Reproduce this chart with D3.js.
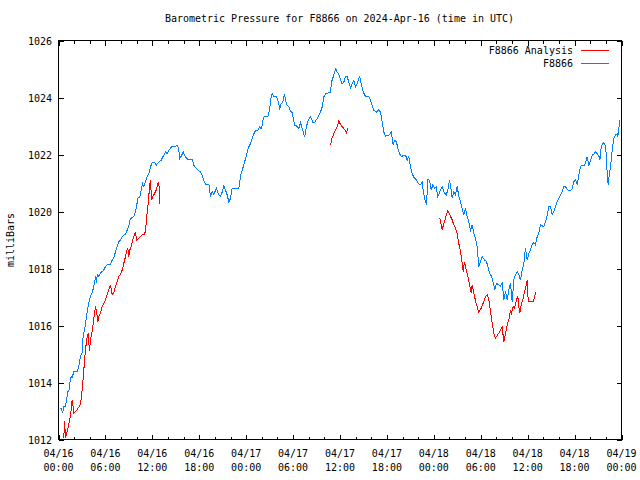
<!DOCTYPE html>
<html><head><meta charset="utf-8">
<script src="https://cdn.jsdelivr.net/npm/d3@7"></script>
<style>
body{margin:0;background:#fff}
text{font-family:"DejaVu Sans Mono","Liberation Mono",monospace;font-size:10px;fill:#000}
</style>
</head><body>
<svg id="chart" width="640" height="480"></svg>
<script>
const chartTitle = "Barometric Pressure for F8866 on 2024-Apr-16 (time in UTC)";
const yAxisLabel = "milliBars";
const seriesNames = ["F8866 Analysis", "F8866"];
const seriesColors = ["#ff0000", "#0080ff"];
const yTickValues = [1012, 1014, 1016, 1018, 1020, 1022, 1024, 1026];
const xTickHours = [0, 6, 12, 18, 24, 30, 36, 42, 48, 54, 60, 66, 72];
const xTickDays = ["04/16","04/16","04/16","04/16","04/17","04/17","04/17","04/17","04/18","04/18","04/18","04/18","04/19"];
const xTickTimes = ["00:00","06:00","12:00","18:00","00:00","06:00","12:00","18:00","00:00","06:00","12:00","18:00","00:00"];
const xMinorHours = d3.range(0, 73, 2).filter(h => h % 6 !== 0);

// [hours since 2024-04-16 00:00 UTC, pressure mbar]
const stationReadings = [
[0.26,1013.12],[0.55,1012.95],[0.68,1013.17],[0.90,1013.17],[1.02,1013.40],[1.21,1013.69],[1.32,1013.69],[1.45,1014.00],
[1.62,1014.22],[1.75,1014.17],[1.96,1014.39],[2.39,1014.39],[2.60,1014.57],[2.81,1014.92],[3.03,1015.05],[3.11,1015.50],
[3.24,1015.75],[3.45,1016.03],[3.58,1016.32],[3.75,1016.62],[3.96,1016.90],[4.09,1017.02],[4.31,1017.15],[4.51,1017.37],
[4.64,1017.54],[4.73,1017.72],[4.86,1017.50],[4.95,1017.78],[5.15,1017.72],[5.37,1017.85],[5.59,1017.89],[5.79,1017.95],
[6.01,1018.07],[6.27,1018.13],[6.65,1018.13],[6.87,1018.30],[7.07,1018.37],[7.29,1018.59],[7.51,1018.77],[7.71,1018.94],
[7.93,1019.00],[8.15,1019.12],[8.57,1019.21],[8.79,1019.35],[8.99,1019.47],[9.12,1019.70],[9.34,1019.77],[9.63,1019.82],
[9.85,1020.00],[9.98,1020.17],[10.14,1020.46],[10.40,1020.52],[10.58,1020.75],[10.74,1020.98],[10.91,1020.87],[11.13,1021.04],
[11.34,1021.22],[11.55,1021.33],[11.77,1021.57],[11.98,1021.71],[12.28,1021.71],[12.53,1021.63],[12.83,1021.74],[13.13,1021.80],
[13.47,1021.98],[13.68,1022.09],[13.90,1022.03],[14.11,1022.15],[14.54,1022.30],[14.84,1022.27],[15.18,1022.33],[15.35,1022.22],
[15.51,1021.86],[15.69,1021.94],[15.95,1022.09],[16.24,1021.92],[16.50,1021.84],[17.10,1021.84],[17.30,1021.63],[17.52,1021.55],
[17.94,1021.43],[18.16,1021.39],[18.38,1021.28],[18.58,1021.10],[18.80,1020.96],[19.06,1020.93],[19.25,1020.93],[19.44,1020.52],
[19.66,1020.69],[19.86,1020.61],[20.21,1020.81],[20.42,1020.63],[20.72,1020.52],[20.94,1020.69],[21.14,1020.90],[21.36,1020.75],
[21.57,1020.58],[21.78,1020.34],[22.00,1020.46],[22.21,1020.81],[23.02,1020.81],[23.15,1020.93],[23.28,1021.28],[23.49,1021.45],
[23.70,1021.63],[23.92,1021.86],[24.13,1022.09],[24.34,1022.27],[24.55,1022.38],[24.77,1022.56],[24.98,1022.73],[25.19,1022.83],
[25.49,1022.85],[25.71,1022.97],[25.93,1022.91],[26.05,1023.03],[26.18,1023.26],[26.35,1023.34],[26.77,1023.34],[26.98,1023.55],
[27.20,1024.02],[27.33,1024.13],[27.53,1024.04],[27.88,1024.02],[28.05,1023.90],[28.30,1023.61],[28.48,1023.78],[28.69,1023.84],
[28.90,1024.13],[29.03,1023.90],[29.25,1023.72],[29.45,1023.69],[29.67,1023.51],[29.89,1023.48],[30.18,1023.03],[30.53,1022.99],
[30.73,1022.91],[30.95,1023.11],[31.17,1022.91],[31.37,1022.71],[31.50,1022.64],[31.72,1022.99],[31.93,1023.20],[32.23,1023.32],
[32.52,1023.14],[32.78,1023.14],[33.08,1023.26],[33.29,1023.38],[33.51,1023.49],[33.72,1023.67],[33.93,1024.02],[34.15,1024.13],
[34.53,1024.16],[34.79,1024.19],[34.91,1024.54],[35.13,1024.72],[35.30,1024.89],[35.46,1025.01],[35.64,1024.89],[35.85,1024.81],
[36.06,1024.62],[36.28,1024.48],[36.49,1024.54],[36.70,1024.72],[36.92,1024.72],[37.13,1024.54],[37.34,1024.34],[37.56,1024.48],
[37.77,1024.60],[37.98,1024.37],[38.20,1024.48],[38.40,1024.66],[38.53,1024.72],[38.71,1024.48],[38.97,1024.19],[39.26,1024.04],
[39.68,1024.02],[39.90,1023.90],[40.12,1023.72],[40.32,1023.55],[40.67,1023.49],[40.96,1023.57],[41.18,1023.49],[41.40,1023.14],
[41.60,1022.79],[41.82,1022.64],[42.20,1022.67],[42.37,1022.70],[42.55,1022.79],[42.68,1022.56],[42.80,1022.33],[42.97,1022.50],
[43.23,1022.44],[43.39,1022.21],[43.65,1022.01],[43.87,1021.92],[44.16,1021.98],[44.38,1021.98],[44.60,1021.80],[44.80,1021.94],
[44.93,1021.69],[45.11,1021.45],[45.31,1021.28],[45.53,1021.16],[45.78,1021.12],[46.00,1020.98],[46.21,1020.93],[46.51,1021.02],
[46.64,1020.75],[46.81,1020.46],[47.06,1020.23],[47.23,1021.12],[47.45,1021.10],[47.66,1020.75],[47.87,1020.93],[48.09,1020.82],
[48.30,1020.87],[48.51,1020.52],[48.76,1020.69],[49.07,1020.87],[49.28,1020.69],[49.58,1020.58],[49.79,1020.75],[50.00,1021.10],
[50.13,1020.93],[50.35,1020.46],[50.55,1020.69],[50.77,1020.58],[50.99,1020.89],[51.19,1020.52],[51.41,1020.34],[51.63,1020.11],
[51.83,1019.88],[52.05,1020.11],[52.27,1019.82],[52.47,1019.64],[52.69,1019.35],[52.91,1019.53],[53.11,1019.23],[53.33,1019.06],
[53.54,1018.77],[53.75,1018.07],[53.97,1018.24],[54.19,1018.42],[54.48,1018.30],[54.74,1018.24],[54.90,1018.07],[55.16,1017.83],
[55.38,1017.72],[55.59,1017.51],[55.80,1017.25],[56.01,1017.48],[56.31,1017.43],[56.53,1017.37],[56.74,1017.51],[56.95,1016.90],
[57.17,1017.19],[57.39,1016.90],[57.59,1017.25],[57.81,1017.48],[58.02,1016.84],[58.23,1017.60],[58.45,1017.78],[58.66,1017.89],
[58.87,1017.78],[59.08,1017.60],[59.30,1017.95],[59.51,1018.18],[59.72,1018.71],[59.94,1018.30],[60.15,1018.53],[60.36,1018.65],
[60.57,1018.83],[60.79,1018.91],[61.00,1018.83],[61.22,1019.12],[61.42,1019.23],[61.64,1019.53],[62.06,1019.47],[62.28,1019.64],
[62.50,1019.88],[62.70,1020.17],[62.92,1020.19],[63.13,1019.88],[63.34,1020.00],[63.56,1020.17],[63.78,1020.34],[63.98,1020.46],
[64.20,1020.58],[64.42,1020.69],[64.62,1020.87],[64.84,1020.87],[65.05,1020.77],[65.26,1020.73],[65.48,1020.73],[65.70,1020.81],
[65.90,1021.04],[66.12,1021.12],[66.34,1020.93],[66.54,1021.28],[66.76,1021.59],[67.27,1021.63],[67.44,1021.74],[67.61,1021.92],
[67.82,1021.63],[68.04,1021.80],[68.26,1021.98],[68.46,1022.01],[68.68,1022.09],[68.90,1022.03],[69.11,1021.94],[69.24,1021.82],
[69.41,1022.27],[69.67,1022.41],[69.87,1022.38],[70.08,1021.98],[70.17,1021.28],[70.30,1020.93],[70.43,1021.28],[70.60,1021.57],
[70.81,1022.15],[71.02,1022.56],[71.23,1022.68],[71.45,1022.73],[71.53,1022.62],[71.66,1022.91],[71.79,1023.20]
];

// null separates the analysis segments
const analysisReadings = [
[0.68,1012.06],[0.77,1012.64],[0.90,1012.06],[1.11,1012.29],[1.32,1012.53],[1.53,1012.82],[1.75,1013.40],[1.96,1012.93],
[2.39,1013.05],[2.81,1013.23],[3.03,1013.75],[3.24,1014.45],[3.45,1015.15],[3.67,1015.62],[3.80,1015.73],[3.96,1015.09],
[4.09,1015.50],[4.31,1015.79],[4.44,1016.08],[4.60,1016.43],[4.73,1016.67],[4.86,1016.49],[5.03,1016.14],[5.15,1016.32],
[5.37,1016.43],[5.59,1016.67],[5.79,1016.78],[6.01,1016.90],[6.23,1017.08],[6.43,1017.25],[6.65,1017.43],[6.87,1017.08],
[7.07,1017.13],[7.29,1017.37],[7.51,1017.54],[7.71,1017.72],[7.93,1017.78],[8.15,1017.95],[8.35,1018.18],[8.57,1018.42],
[8.70,1018.59],[8.86,1018.71],[8.99,1018.42],[9.12,1018.65],[9.30,1018.77],[9.43,1018.94],[9.63,1019.12],[9.85,1019.29],
[9.98,1019.00],[10.27,1019.06],[10.70,1019.18],[11.00,1019.18],[11.13,1019.35],[11.34,1019.99],[11.47,1020.28],[11.68,1020.98],
[11.77,1021.10],[11.89,1020.40],[12.06,1020.52],[12.28,1020.63],[12.49,1020.75],[12.70,1020.98],[12.83,1021.01],[12.92,1020.63],
[12.96,1020.28],
null,
[34.79,1022.33],[35.00,1022.59],[35.21,1022.73],[35.43,1022.85],[35.64,1022.99],[35.85,1023.17],[36.06,1023.06],[36.28,1022.97],
[36.49,1022.91],[36.70,1022.83],[36.83,1022.76],[37.00,1022.91],
null,
[48.76,1019.79],[49.07,1019.37],[49.28,1019.58],[49.49,1019.77],[49.79,1020.03],[50.04,1019.88],[50.35,1019.70],[50.55,1019.53],
[50.77,1019.41],[50.99,1019.23],[51.19,1018.88],[51.41,1018.59],[51.63,1018.18],[51.76,1017.89],[51.92,1018.24],[52.14,1017.95],
[52.35,1017.72],[52.56,1017.43],[52.78,1017.13],[52.91,1017.43],[53.04,1017.25],[53.20,1017.02],[53.46,1016.73],[53.75,1016.46],
[54.06,1016.61],[54.39,1016.84],[54.61,1017.02],[54.83,1017.08],[55.03,1016.90],[55.25,1016.49],[55.46,1016.08],[55.67,1015.73],
[55.88,1015.56],[56.18,1015.68],[56.44,1015.79],[56.74,1015.94],[56.95,1015.44],[57.17,1015.73],[57.39,1016.03],[57.59,1016.20],
[57.81,1016.55],[57.93,1016.43],[58.15,1016.67],[58.32,1016.61],[58.57,1016.90],[58.75,1017.02],[58.87,1016.67],[59.00,1016.43],
[59.18,1016.73],[59.43,1016.96],[59.60,1017.19],[59.82,1017.43],[59.94,1017.60],[60.07,1016.84],[60.36,1016.84],[60.71,1016.84],
[60.87,1016.96],[61.00,1017.19]
];

const startUTC = Date.UTC(2024, 3, 16, 0, 0);
const toDate = h => new Date(startUTC + h * 3600e3);

const svg = d3.select("#chart");
const L = 58.5, R = 621.5, T = 40.5, B = 439.5;

const x = d3.scaleUtc().domain([toDate(0), toDate(72)]).range([L, R]);
const y = d3.scaleLinear().domain([1012, 1026]).range([B, T]);

svg.append("rect").attr("width", 640).attr("height", 480).attr("fill", "#fff");

function styleAxis(g) {
  g.select(".domain").remove();
  g.attr("shape-rendering", "crispEdges");
  g.selectAll(".tick line").attr("stroke", "#000");
}

// x ticks (inward)
svg.append("g").attr("transform", `translate(0,${B})`)
  .call(d3.axisBottom(x).tickValues(xTickHours.map(toDate)).tickSize(-5).tickFormat(() => ""))
  .call(styleAxis);
svg.append("g").attr("transform", `translate(0,${B})`)
  .call(d3.axisBottom(x).tickValues(xMinorHours.map(toDate)).tickSize(-3).tickFormat(() => ""))
  .call(styleAxis);
svg.append("g").attr("transform", `translate(0,${T})`)
  .call(d3.axisTop(x).tickValues(xTickHours.map(toDate)).tickSize(-5).tickFormat(() => ""))
  .call(styleAxis);
svg.append("g").attr("transform", `translate(0,${T})`)
  .call(d3.axisTop(x).tickValues(xMinorHours.map(toDate)).tickSize(-3).tickFormat(() => ""))
  .call(styleAxis);

// y ticks
const yl = svg.append("g").attr("transform", `translate(${L},0)`)
  .call(d3.axisLeft(y).tickValues(yTickValues).tickSize(-5).tickPadding(6).tickFormat(d3.format("d")))
  .call(styleAxis);
yl.selectAll("text").attr("font-size", null).attr("font-family", null).attr("dy", "0.35em").attr("x", -6.5);
svg.append("g").attr("transform", `translate(${R},0)`)
  .call(d3.axisRight(y).tickValues(yTickValues).tickSize(-5).tickFormat(() => ""))
  .call(styleAxis);

// x labels (two lines)
const xl = svg.append("g").selectAll("text").data(xTickHours).join("text")
  .attr("text-anchor", "middle")
  .attr("x", h => x(toDate(h)));
xl.append("tspan").attr("x", h => x(toDate(h))).attr("y", 457).text((h, i) => xTickDays[i]);
xl.append("tspan").attr("x", h => x(toDate(h))).attr("y", 470.5).text((h, i) => xTickTimes[i]);

// border
svg.append("rect").attr("x", L).attr("y", T).attr("width", R - L).attr("height", B - T)
  .attr("fill", "none").attr("stroke", "#000").attr("shape-rendering", "crispEdges");

// series lines
const line = d3.line().defined(d => d !== null).x(d => x(toDate(d[0]))).y(d => y(d[1]));
svg.append("path").datum(analysisReadings).attr("d", line)
  .attr("fill", "none").attr("stroke", seriesColors[0]).attr("stroke-width", 1)
  .attr("shape-rendering", "crispEdges");
svg.append("path").datum(stationReadings).attr("d", line)
  .attr("fill", "none").attr("stroke", seriesColors[1]).attr("stroke-width", 1)
  .attr("shape-rendering", "crispEdges");

// title
svg.append("text").attr("x", 339.5).attr("y", 22).attr("text-anchor", "middle").text(chartTitle);

// y label
svg.append("text").attr("transform", "translate(14,240) rotate(-90)").attr("text-anchor", "middle").text(yAxisLabel);

// legend
const leg = svg.append("g").selectAll("g").data(seriesNames).join("g")
  .attr("transform", (d, i) => `translate(0,${50 + i * 13})`);
leg.append("text").attr("x", 573).attr("y", 0).attr("dy", "0.35em").attr("text-anchor", "end").text(d => d);
leg.append("line").attr("x1", 581).attr("x2", 609).attr("y1", 0.5).attr("y2", 0.5)
  .attr("stroke", (d, i) => seriesColors[i]).attr("shape-rendering", "crispEdges");
</script>
</body></html>
